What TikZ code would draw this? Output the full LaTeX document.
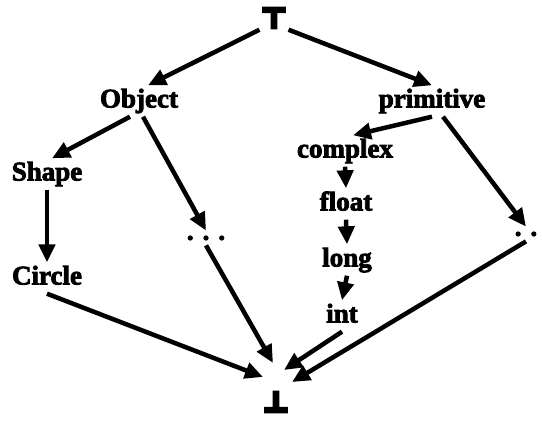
\documentclass[tikz,border=0pt]{standalone}
\usepackage{fontspec}
\setmainfont{Liberation Serif}[BoldFeatures={FakeBold=3}]
\newfontfamily\symfont{DejaVu Sans}[BoldFeatures={FakeBold=14}]
\usetikzlibrary{arrows.meta}

\begin{document}
\begin{tikzpicture}[x=1pt, y=-1pt,
    lbl/.style={font=\fontsize{27}{32}\selectfont\bfseries, inner sep=3pt,
                text height=19pt, text depth=6pt},
    dots/.style={font=\fontsize{27}{32}\selectfont\bfseries, inner sep=5pt},
    sym/.style={font=\fontsize{27}{32}\selectfont\symfont\bfseries, inner sep=2pt},
    arr/.style={-{Triangle[length=18pt,width=16pt]}, line width=4.5pt}]
    \useasboundingbox (0,0) rectangle (542,421);

    % lattice nodes
    \node[sym] (top) at (274,18) {⊤};
    \node[lbl] (obj) at (139,101) {Object};
    \node[lbl] (prim) at (432,101) {primitive};
    \node[lbl] (shape) at (47,174) {Shape};
    \node[lbl] (circle) at (47,278) {Circle};
    \node[dots] (mdots) at (206,238) {.\,\,.\,\,.};
    \node[lbl] (cplx) at (345,151) {complex};
    \node[lbl] (flt) at (346,204) {float};
    \node[lbl] (lng) at (347,260) {long};
    \node[lbl] (int) at (342,316) {int};
    \node[dots] (rdots) at (526,234) {.\,\,.};
    \node[sym] (bot) at (276,402) {⊥};

    % edges
    \draw[arr] (top.south west) -- ([xshift=9pt]obj.north);
    \draw[arr] (top.south east) -- (prim.north);
    \draw[arr] ([xshift=-9pt]obj.south) -- ([xshift=5pt]shape.north);
    \draw[arr] ([xshift=4pt]obj.south) -- (mdots.north);
    \draw[arr] (shape.south) -- (circle.north);
    \draw[arr] (prim.south) -- ([xshift=8pt]cplx.north);
    \draw[arr] ([xshift=11pt]prim.south) -- (rdots.north);
    \draw[arr] (cplx.south) -- (flt.north);
    \draw[arr] (flt.south) -- (lng.north);
    \draw[arr] (lng.south) -- (int.north);

    % everything ends in bottom
    \draw[arr] (circle.south) -- ([shift={(-13,-25)}]bot.center);
    \draw[arr] (mdots.south) -- ([shift={(-3,-39)}]bot.center);
    \draw[arr] (int.south) -- ([shift={(8,-32)}]bot.center);
    \draw[arr] (rdots.south) -- ([shift={(16,-20)}]bot.center);
\end{tikzpicture}
\end{document}
